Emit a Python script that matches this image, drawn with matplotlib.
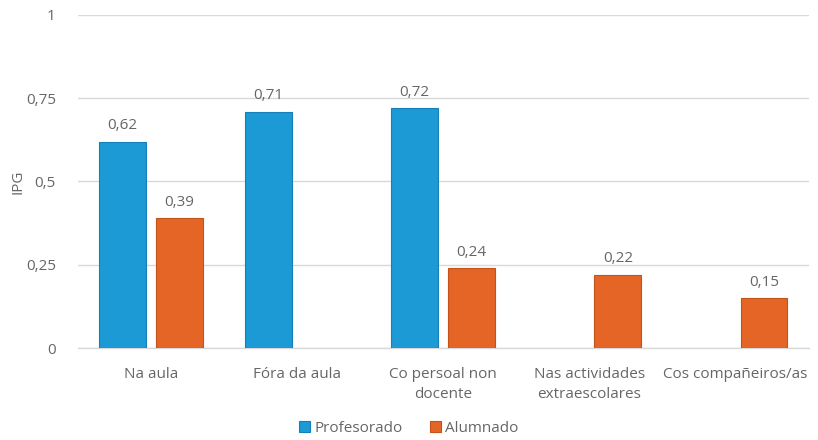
import numpy as np
import matplotlib.pyplot as plt

plt.rcParams['font.family'] = ['Open Sans', 'DejaVu Sans']

categories = ["Na aula", "Fóra da aula", "Co persoal non\ndocente",
              "Nas actividades\nextraescolares", "Cos compañeiros/as"]
profesorado = [0.62, 0.71, 0.72, np.nan, np.nan]
alumnado = [0.39, np.nan, 0.24, 0.22, 0.15]

blue = "#1b9ad6"
orange = "#e46525"
text_col = "#666666"

fig = plt.figure(figsize=(8.18, 4.40), dpi=100)
ax = fig.add_axes([0.0954, 0.209, 0.893, 0.757])

x = np.arange(len(categories))
w = 0.32
off = 0.195
b1 = ax.bar(x - off, profesorado, w, color=blue, edgecolor="#1580b8", linewidth=0.8,
            label="Profesorado", zorder=3)
b2 = ax.bar(x + off, alumnado, w, color=orange, edgecolor="#c4531a", linewidth=0.8,
            label="Alumnado", zorder=3)

for bars, vals in ((b1, profesorado), (b2, alumnado)):
    for rect, v in zip(bars, vals):
        if np.isnan(v):
            continue
        ax.text(rect.get_x() + rect.get_width() / 2, v + 0.025,
                f"{v:.2f}".replace(".", ","), ha="center", va="bottom",
                fontsize=11, color=text_col)

ax.set_xlim(-0.5, len(categories) - 0.5)
ax.set_ylim(0, 1)
ax.set_yticks([0, 0.25, 0.5, 0.75, 1])
ax.set_yticklabels(["0", "0,25", "0,5", "0,75", "1"])
ax.set_xticks(x)
ax.set_xticklabels(categories, linespacing=1.45)
ax.tick_params(axis="both", length=0, labelsize=11, colors=text_col)
ax.tick_params(axis="y", pad=16)
ax.tick_params(axis="x", pad=14)
ax.yaxis.grid(True, color="#d9d9d9", linewidth=1, zorder=0)
for s in ("top", "right", "left"):
    ax.spines[s].set_visible(False)
ax.spines["bottom"].set_color("#d9d9d9")
ax.spines["bottom"].set_linewidth(1)
ax.set_ylabel("IPG", color=text_col, fontsize=11, labelpad=0)

fig.legend(handles=[b1, b2], loc="lower center", bbox_to_anchor=(0.5, -0.022), ncol=2,
           frameon=False, fontsize=11, labelcolor=text_col, handlelength=0.7,
           handleheight=0.7, handletextpad=0.3, columnspacing=1.8)

fig.savefig("out.png", dpi=100)
